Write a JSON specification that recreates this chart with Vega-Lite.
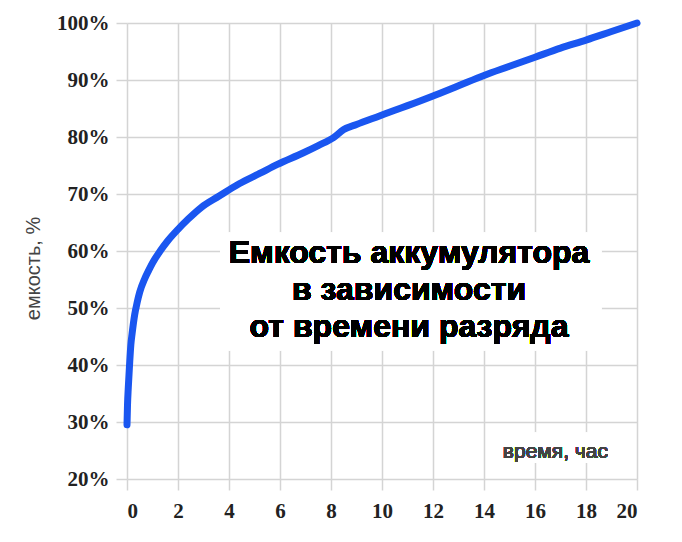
{
  "$schema": "https://vega.github.io/schema/vega-lite/v6.json",
  "autosize": "none",
  "width": 510,
  "height": 456,
  "padding": {"left": 127, "top": 23, "right": 45, "bottom": 63},
  "background": "#ffffff",
  "config": {
    "view": {"stroke": null},
    "axis": {
      "grid": true,
      "gridColor": "#d4d4d4",
      "gridWidth": 1.5,
      "tickColor": "#d4d4d4",
      "tickWidth": 1.5,
      "tickSize": 11,
      "domain": false,
      "labelFont": "Liberation Serif",
      "labelFontWeight": "bold",
      "labelFontSize": 21,
      "labelColor": "#222222"
    }
  },
  "data": {
    "values": [
      {"t": 0, "v": 29.5}, {"t": 0.02, "v": 33}, {"t": 0.05, "v": 36},
      {"t": 0.1, "v": 40}, {"t": 0.15, "v": 43.5}, {"t": 0.2, "v": 45.5},
      {"t": 0.3, "v": 48.8}, {"t": 0.4, "v": 51}, {"t": 0.5, "v": 52.8},
      {"t": 0.7, "v": 55.2}, {"t": 0.85, "v": 56.6}, {"t": 1.0, "v": 57.9},
      {"t": 1.3, "v": 60.0}, {"t": 1.6, "v": 61.8}, {"t": 2.0, "v": 63.8},
      {"t": 2.4, "v": 65.6}, {"t": 2.9, "v": 67.6}, {"t": 3.6, "v": 69.6},
      {"t": 4.4, "v": 71.8}, {"t": 5.2, "v": 73.6}, {"t": 5.9, "v": 75.2},
      {"t": 6.9, "v": 77.2}, {"t": 7.5, "v": 78.5}, {"t": 8.1, "v": 79.9},
      {"t": 8.5, "v": 81.3}, {"t": 9.0, "v": 82.2}, {"t": 9.9, "v": 83.7},
      {"t": 10.5, "v": 84.7}, {"t": 11.0, "v": 85.5}, {"t": 12.0, "v": 87.2},
      {"t": 13.0, "v": 89}, {"t": 14.0, "v": 90.8}, {"t": 15.0, "v": 92.4},
      {"t": 16.0, "v": 94}, {"t": 17.0, "v": 95.6}, {"t": 18.0, "v": 97},
      {"t": 19.0, "v": 98.5}, {"t": 20.0, "v": 100}
    ]
  },
  "encoding": {
    "x": {
      "field": "t",
      "type": "quantitative",
      "scale": {"domain": [0, 20], "nice": false},
      "axis": {
        "title": null,
        "values": [0, 2, 4, 6, 8, 10, 12, 14, 16, 18, 20],
        "labelPadding": 10
      }
    },
    "y": {
      "field": "v",
      "type": "quantitative",
      "scale": {"domain": [20, 100], "nice": false, "zero": false},
      "axis": {
        "title": "емкость, %",
        "titleFont": "Liberation Sans",
        "titleFontWeight": "normal",
        "titleFontSize": 20,
        "titleColor": "#444444",
        "titleBaseline": "middle",
        "titleX": -94,
        "titleY": 245,
        "values": [20, 30, 40, 50, 60, 70, 80, 90, 100],
        "labelExpr": "datum.value + '%'",
        "labelPadding": 7
      }
    }
  },
  "layer": [
    {
      "mark": {"type": "rect", "color": "#ffffff"},
      "encoding": {
        "x": {"datum": 3.65},
        "x2": {"datum": 18.6},
        "y": {"datum": 63.2},
        "y2": {"datum": 42.6}
      }
    },
    {
      "mark": {"type": "rect", "color": "#ffffff"},
      "encoding": {
        "x": {"datum": 14.3},
        "x2": {"datum": 19.6},
        "y": {"datum": 28.1},
        "y2": {"datum": 22.8}
      }
    },
    {
      "mark": {
        "type": "line",
        "color": "#1a56f0",
        "strokeWidth": 7,
        "strokeCap": "round",
        "strokeJoin": "round",
        "interpolate": "monotone"
      }
    },
    {
      "mark": {
        "type": "text",
        "text": ["Емкость аккумулятора", "в зависимости", "от времени разряда"],
        "font": "Liberation Sans",
        "fontWeight": "bold",
        "fontSize": 32,
        "lineHeight": 37,
        "align": "center",
        "baseline": "middle",
        "color": "#000000"
      },
      "encoding": {
        "x": {"datum": 11.06},
        "y": {"datum": 59.6}
      }
    },
    {
      "mark": {
        "type": "text",
        "text": "время, час",
        "font": "Liberation Sans",
        "fontWeight": "normal",
        "fontSize": 21,
        "align": "center",
        "baseline": "middle",
        "color": "#444444"
      },
      "encoding": {
        "x": {"datum": 16.8},
        "y": {"datum": 24.7}
      }
    }
  ]
}
